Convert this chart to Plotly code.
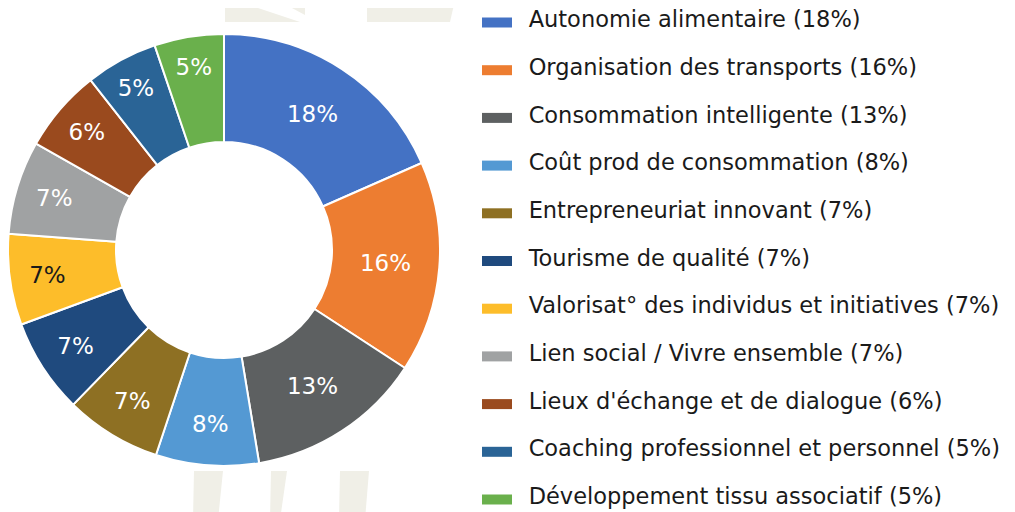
import plotly.graph_objects as go

categories = [
    "Autonomie alimentaire",
    "Organisation des transports",
    "Consommation intelligente",
    "Coût prod de consommation",
    "Entrepreneuriat innovant",
    "Tourisme de qualité",
    "Valorisat° des individus et initiatives",
    "Lien social / Vivre ensemble",
    "Lieux d'échange et de dialogue",
    "Coaching professionnel et personnel",
    "Développement tissu associatif",
]
values = [18.4, 15.8, 13.2, 7.7, 7.2, 7.1, 6.8, 7.0, 6.2, 5.4, 5.2]
shown_pct = [18, 16, 13, 8, 7, 7, 7, 7, 6, 5, 5]
colors = ["#4472C4", "#ED7D31", "#5D6061", "#5499D3", "#8E7023", "#1F4A7E",
          "#FDBD2A", "#A0A2A3", "#9A4A1E", "#2A6496", "#6AB04C"]
text_colors = ["white"] * 6 + ["#1a1a1a"] + ["white"] * 4

W, H = 1015, 512
OFF = 8  # page body margin offset in the screenshot
FONT = "DejaVu Sans"

# donut geometry (reference pixels): center (224, 250), radius 216
cx, cy, R = 224 - OFF, 250 - OFF, 216

fig = go.Figure()
fig.add_trace(go.Pie(
    labels=categories,
    values=values,
    sort=False,
    direction="clockwise",
    rotation=0,
    hole=0.5,
    marker=dict(colors=colors, line=dict(color="white", width=2)),
    texttemplate="%{value:.0f}%",
    textposition="inside",
    insidetextorientation="horizontal",
    textfont=dict(family=FONT, size=23, color=text_colors),
    domain=dict(x=[max(0, (cx - R) / W), (cx + R) / W],
                y=[(H - cy - R) / H, (H - cy + R) / H]),
    showlegend=False,
    hoverinfo="label+percent",
))

# legend entries (one per category)
for name, pct, col in zip(categories, shown_pct, colors):
    fig.add_trace(go.Scatter(
        x=[None], y=[None], mode="lines",
        line=dict(color=col, width=11),
        name='<span style="font-size:22.5px">\u00a0\u2009' + f"{name} ({pct}%)</span>",
        legendgroup=name,
        showlegend=True,
        hoverinfo="skip",
    ))

def px_path(pts):
    return "M " + " L ".join(
        f"{(x - OFF) / W:.5f},{1 - (y - OFF) / H:.5f}" for x, y in pts) + " Z"

wm = "#F0EFE7"
watermarks = [
    [(225, 0), (234, 0), (300, 22), (225, 22)],
    [(277, 0), (305, 0), (305, 15)],
    [(367, 0), (455, 0), (450, 22), (367, 22)],
    [(194, 471), (223, 471), (218, 520), (193, 520)],
    [(271, 471), (287, 471), (280, 520), (270, 520)],
    [(340, 471), (369, 471), (365, 520), (339, 520)],
]
shapes = [dict(type="path", xref="paper", yref="paper", path=px_path(p),
               fillcolor=wm, line=dict(width=0), layer="below") for p in watermarks]

legend_font = 12
item_h = max(legend_font * 1.3, 16) + 3
pitch = 47.7

fig.update_layout(
    width=W, height=H,
    margin=dict(l=0, r=0, t=0, b=0, autoexpand=False),
    paper_bgcolor="white",
    plot_bgcolor="rgba(0,0,0,0)",
    xaxis=dict(visible=False),
    yaxis=dict(visible=False),
    shapes=shapes,
    legend=dict(
        x=(482 - OFF - 5) / W, xanchor="left",
        y=1, yanchor="top",
        font=dict(family=FONT, size=legend_font, color="#1a1a1a"),
        traceorder="grouped",
        tracegroupgap=pitch - item_h,
        bgcolor="rgba(0,0,0,0)",
    ),
)

fig.write_html("out.html")
